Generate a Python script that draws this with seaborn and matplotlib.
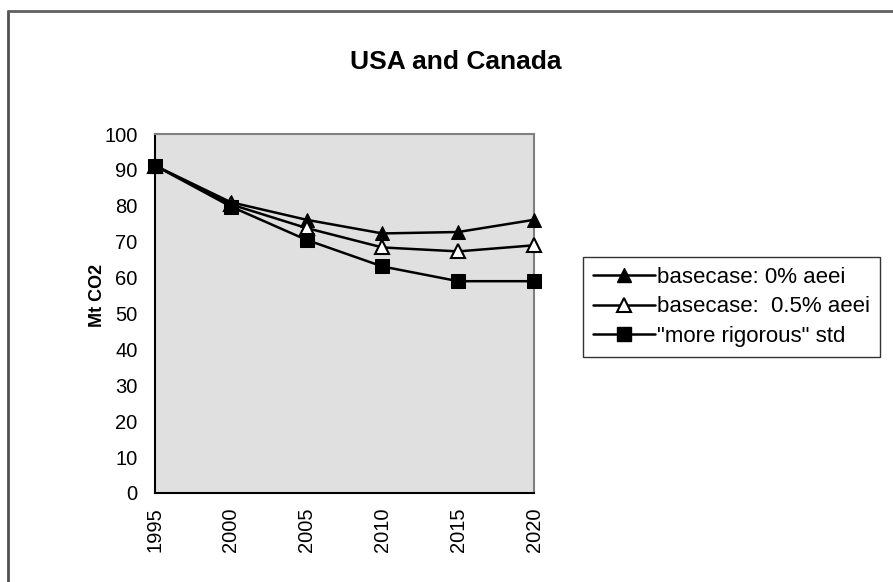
import pandas as pd
import matplotlib
matplotlib.use('Agg')
import matplotlib.pyplot as plt
import seaborn as sns
from matplotlib.lines import Line2D

# Data
years = [1995, 2000, 2005, 2010, 2015, 2020]
base_0 = [91.2, 81.0, 76.1, 72.3, 72.7, 76.1]
base_05 = [91.2, 80.4, 73.8, 68.4, 67.3, 69.0]
rigorous = [91.2, 79.8, 70.5, 63.1, 59.0, 59.0]
series_names = ['basecase: 0% aeei', 'basecase:  0.5% aeei', '"more rigorous" std']

sns.set_style('white')
plt.rcParams['font.family'] = ['Liberation Sans', 'DejaVu Sans']
plt.rcParams['text.color'] = 'black'
plt.rcParams['axes.labelcolor'] = 'black'
plt.rcParams['xtick.color'] = 'black'
plt.rcParams['ytick.color'] = 'black'

fig = plt.figure(figsize=(8.93, 5.82), dpi=100)
ax = fig.add_axes([155 / 893, 89 / 582, 379 / 893, 359 / 582])
ax.set_facecolor('#e0e0e0')

styles = [
    dict(marker='^', markerfacecolor='black', markeredgecolor='black', markersize=10),
    dict(marker='^', markerfacecolor='white', markeredgecolor='black', markersize=10, markeredgewidth=1.5),
    dict(marker='s', markerfacecolor='black', markeredgecolor='black', markersize=10),
]

for name, vals, st in zip(series_names, [base_0, base_05, rigorous], styles):
    df = pd.DataFrame({'year': years, 'co2': vals})
    sns.lineplot(data=df, x='year', y='co2', ax=ax, color='black', linewidth=1.8,
                 clip_on=False, zorder=3, **st)

ax.set_xlim(1995, 2020)
ax.set_ylim(0, 100)
ax.set_xticks(years)
ax.set_xticklabels([str(y) for y in years], rotation=90)
ax.set_yticks(range(0, 101, 10))
ax.tick_params(axis='both', direction='inout', length=9, width=1.2, color='black',
               labelcolor='black', labelsize=14.5, pad=6)
ax.tick_params(axis='y', pad=8)
ax.set_xlabel('')
ax.set_ylabel('')
fig.text(97 / 893, (582 - 295) / 582, 'Mt CO2', rotation=90, ha='center', va='center',
         fontsize=13, fontweight='bold')

for side in ['left', 'bottom']:
    ax.spines[side].set_color('black')
    ax.spines[side].set_linewidth(1.5)
for side in ['top', 'right']:
    ax.spines[side].set_color('#808080')
    ax.spines[side].set_linewidth(1.5)
    ax.spines[side].set_visible(True)

fig.text(456 / 893, (582 - 62) / 582, 'USA and Canada', ha='center', va='center',
         fontsize=19, fontweight='bold')

# Legend
handles = [Line2D([], [], color='black', linewidth=1.8, **st) for st in styles]
leg = fig.legend(handles, series_names, loc='upper left',
                 bbox_to_anchor=(583 / 893, (582 - 257) / 582),
                 frameon=True, fancybox=False, fontsize=16, handlelength=2.8,
                 handletextpad=0.1, labelspacing=0.38, borderpad=0.45,
                 borderaxespad=0)
leg.get_frame().set_edgecolor('black')
leg.get_frame().set_linewidth(1.0)

# chart area border (top and left edges visible)
fig.add_artist(Line2D([8 / 893, 8 / 893], [0, (582 - 11) / 582], color='#505050', linewidth=2))
fig.add_artist(Line2D([8 / 893, 1], [(582 - 11) / 582, (582 - 11) / 582], color='#606060', linewidth=2))

fig.savefig('out.png', dpi=100)
